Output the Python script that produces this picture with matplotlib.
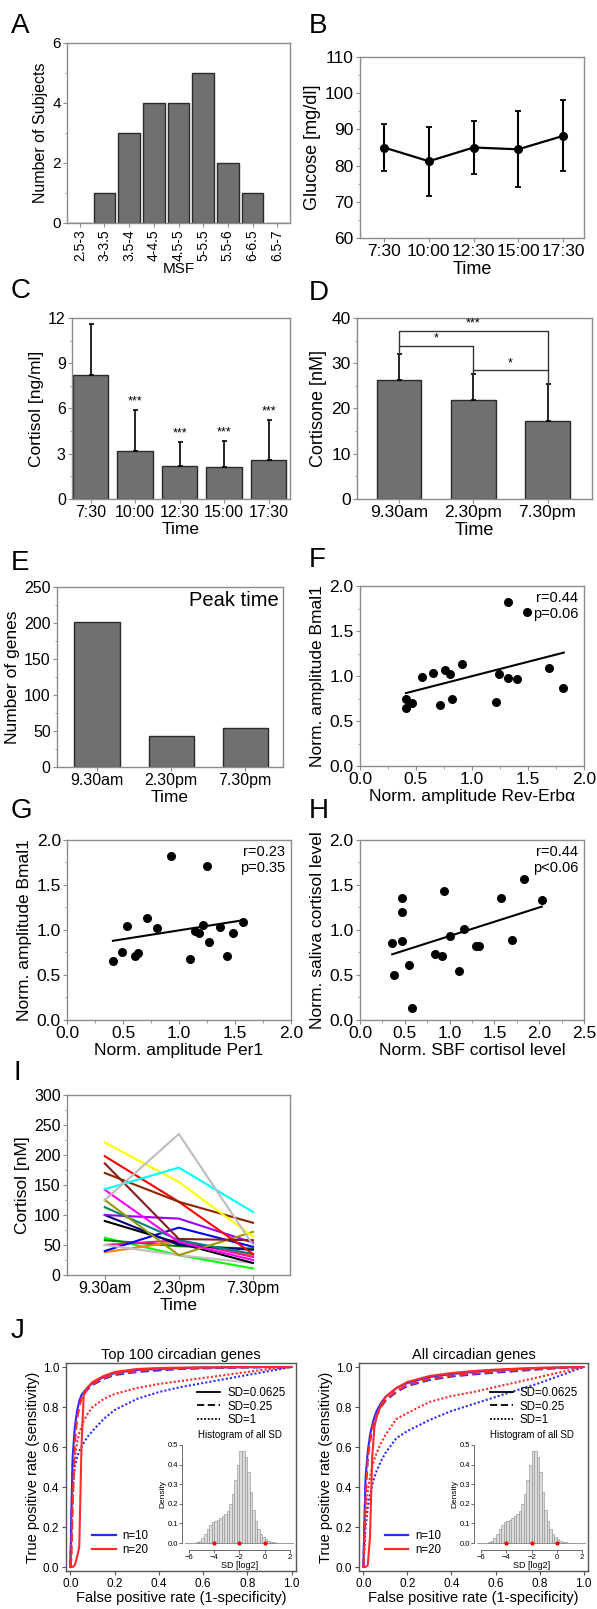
import numpy as np
import matplotlib
matplotlib.use('Agg')
import matplotlib.pyplot as plt
from matplotlib.ticker import MultipleLocator, FormatStrFormatter
from matplotlib.lines import Line2D

plt.rcParams['font.family'] = ['Liberation Sans', 'DejaVu Sans']

W, H = 597, 1609

# --------------------------- data ---------------------------
msf_bins = ['2.5-3', '3-3.5', '3.5-4', '4-4.5', '4.5-5', '5-5.5', '5.5-6', '6-6.5', '6.5-7']
msf_counts = [0, 1, 3, 4, 4, 5, 2, 1, 0]

clock_times = ['7:30', '10:00', '12:30', '15:00', '17:30']
glucose_mean = [85.0, 81.2, 85.0, 84.5, 88.2]
glucose_sd = [6.5, 9.5, 7.2, 10.5, 9.8]

cortisol_mean = [8.2, 3.2, 2.2, 2.1, 2.6]
cortisol_sd = [3.4, 2.7, 1.6, 1.75, 2.65]
cortisol_sig = ['', '***', '***', '***', '***']

day_times = ['9.30am', '2.30pm', '7.30pm']
cortisone_mean = [26.3, 21.9, 17.2]
cortisone_sd = [5.7, 5.8, 8.2]
# (bar i, bar j, bracket height, left end, right end, label)
cortisone_brackets = [(0, 1, 33.8, 32.0, 28.4, '*'),
                      (0, 2, 37.2, 33.8, 28.4, '***'),
                      (1, 2, 28.4, 27.7, 25.4, '*')]

peak_genes = [202, 43, 54]

rev_x = [0.41, 0.41, 0.46, 0.55, 0.65, 0.71, 0.76, 0.80, 0.82, 0.91, 1.21, 1.24, 1.32, 1.40, 1.69, 1.815, 1.32, 1.49]
rev_y = [0.75, 0.65, 0.705, 0.99, 1.035, 0.675, 1.07, 1.02, 0.74, 1.13, 0.71, 1.025, 0.975, 0.97, 1.09, 0.87, 1.825, 1.71]
rev_fit_x = [0.41, 1.82]
rev_fit_y = [0.81, 1.26]

per_x = [0.41, 0.49, 0.54, 0.61, 0.63, 0.71, 0.80, 0.93, 1.10, 1.14, 1.18, 1.21, 1.25, 1.27, 1.37, 1.43, 1.48, 1.57]
per_y = [0.655, 0.76, 1.04, 0.71, 0.74, 1.13, 1.02, 1.82, 0.675, 0.99, 0.97, 1.06, 1.71, 0.87, 1.03, 0.71, 0.97, 1.09]
per_fit_x = [0.41, 1.58]
per_fit_y = [0.88, 1.11]

sbf_x = [0.36, 0.385, 0.47, 0.47, 0.47, 0.55, 0.585, 0.84, 0.91, 0.94, 1.0, 1.11, 1.16, 1.30, 1.33, 1.57, 1.70, 1.83, 2.03]
sbf_y = [0.85, 0.50, 0.88, 1.20, 1.36, 0.61, 0.13, 0.73, 0.71, 1.43, 0.93, 0.54, 1.01, 0.82, 0.82, 1.36, 0.89, 1.57, 1.33]
sbf_fit_x = [0.36, 2.03]
sbf_fit_y = [0.73, 1.26]

subject_colors = ['#00ff00', '#008000', '#ff8000', '#ff1493', '#0000ff', '#c0c0c0',
                  '#000000', '#000080', '#9900ff', '#008080', '#999900', '#ff00ff',
                  '#ff0000', '#8b1a1a', '#8b2500', '#ffff00', '#00ffff', '#bdbdbd']
subject_cortisol = [[62, 33, 11], [58, 48, 44], [38, 56, 33], [50, 58, 30], [40, 79, 47],
                    [50, 33, 20], [90, 53, 20], [100, 50, 42], [100, 94, 54], [113, 58, 35],
                    [125, 33, 72], [142, 55, 25], [198, 122, 35], [186, 60, 58], [170, 122, 87],
                    [221, 155, 64], [143, 179, 105], [125, 235, 50]]

fpr = [0, 0.005, 0.01, 0.02, 0.03, 0.04, 0.05, 0.06, 0.08, 0.1, 0.15, 0.2, 0.3, 0.4, 0.5, 0.6, 0.7, 0.8, 0.9, 1.0]
top_n10_sd0625 = [0, 0.30, 0.55, 0.70, 0.78, 0.83, 0.86, 0.875, 0.90, 0.92, 0.95, 0.97, 0.985, 0.99, 0.995, 0.997, 0.998, 0.999, 1.0, 1.0]
top_n10_sd025 = [0, 0.25, 0.50, 0.66, 0.75, 0.81, 0.845, 0.865, 0.89, 0.91, 0.94, 0.96, 0.975, 0.983, 0.99, 0.993, 0.996, 0.998, 0.999, 1.0]
top_n10_sd1 = [0, 0.20, 0.40, 0.50, 0.55, 0.58, 0.60, 0.62, 0.655, 0.68, 0.74, 0.785, 0.84, 0.875, 0.90, 0.92, 0.94, 0.96, 0.98, 1.0]
top_n20_sd0625 = [0, 0, 0, 0.01, 0.05, 0.10, 0.60, 0.86, 0.90, 0.925, 0.955, 0.975, 0.99, 0.995, 0.997, 0.998, 0.999, 1.0, 1.0, 1.0]
top_n20_sd025 = [0, 0.05, 0.30, 0.62, 0.74, 0.80, 0.845, 0.87, 0.895, 0.915, 0.945, 0.965, 0.98, 0.99, 0.993, 0.996, 0.998, 0.999, 1.0, 1.0]
top_n20_sd1 = [0, 0.15, 0.35, 0.55, 0.62, 0.67, 0.70, 0.73, 0.77, 0.80, 0.84, 0.865, 0.895, 0.915, 0.93, 0.945, 0.96, 0.975, 0.99, 1.0]

all_n10_sd0625 = [0, 0.25, 0.45, 0.58, 0.66, 0.71, 0.75, 0.78, 0.82, 0.85, 0.895, 0.92, 0.95, 0.965, 0.975, 0.983, 0.99, 0.995, 0.998, 1.0]
all_n10_sd025 = [0, 0.20, 0.40, 0.55, 0.63, 0.69, 0.73, 0.76, 0.80, 0.83, 0.875, 0.905, 0.935, 0.952, 0.963, 0.972, 0.98, 0.988, 0.995, 1.0]
all_n10_sd1 = [0, 0.10, 0.20, 0.30, 0.36, 0.41, 0.45, 0.48, 0.53, 0.57, 0.645, 0.68, 0.735, 0.78, 0.815, 0.85, 0.885, 0.92, 0.96, 1.0]
all_n20_sd0625 = [0, 0, 0, 0.01, 0.15, 0.55, 0.70, 0.75, 0.81, 0.85, 0.895, 0.925, 0.955, 0.97, 0.98, 0.987, 0.992, 0.996, 0.998, 1.0]
all_n20_sd025 = [0, 0.15, 0.35, 0.55, 0.63, 0.69, 0.73, 0.76, 0.80, 0.835, 0.88, 0.91, 0.94, 0.957, 0.968, 0.977, 0.985, 0.991, 0.996, 1.0]
all_n20_sd1 = [0, 0.12, 0.25, 0.38, 0.45, 0.50, 0.54, 0.57, 0.62, 0.66, 0.74, 0.77, 0.825, 0.855, 0.875, 0.90, 0.925, 0.95, 0.975, 1.0]

sd_bin_left = [-5.4, -5.2, -5.0, -4.8, -4.6, -4.4, -4.2, -4.0, -3.8, -3.6, -3.4, -3.2, -3.0, -2.8, -2.6, -2.4,
               -2.2, -2.0, -1.8, -1.6, -1.4, -1.2, -1.0, -0.8, -0.6, -0.4, -0.2, 0.0, 0.2, 0.4, 0.6, 0.8]
sd_density = [0.005, 0.012, 0.025, 0.045, 0.07, 0.09, 0.105, 0.115, 0.12, 0.13, 0.14, 0.15, 0.165, 0.20, 0.25, 0.32,
              0.40, 0.47, 0.47, 0.44, 0.36, 0.26, 0.17, 0.11, 0.07, 0.045, 0.03, 0.02, 0.012, 0.007, 0.004, 0.002]
sd_marks = [-4, -2, 0]

# --------------------------- helpers ---------------------------
fig = plt.figure(figsize=(W / 100, H / 100), dpi=100)


def px_axes(l, t, r, b):
    return fig.add_axes([l / W, 1 - b / H, (r - l) / W, (b - t) / H])


def style_box(ax, size=11.5):
    for s in ax.spines.values():
        s.set_color('#8c8c8c')
        s.set_linewidth(1.0)
    ax.tick_params(which='both', direction='out', color='#8c8c8c', labelsize=size, pad=1.5)
    ax.tick_params(which='major', length=3)
    ax.tick_params(which='minor', length=1.8)


def letter(x, y, s):
    fig.text(x / W, 1 - y / H, s, fontsize=20, ha='left', va='baseline')


BAR = '#707070'
EDGE = '#2a2a2a'

# --------------------------- A ---------------------------
ax = px_axes(67, 43, 290, 223)
xa = np.arange(len(msf_bins))
ax.bar(xa, msf_counts, width=0.87, color=BAR, edgecolor=EDGE, linewidth=1.0)
ax.set_xlim(-0.52, 8.52)
ax.set_ylim(0, 6)
ax.set_yticks([0, 2, 4, 6])
ax.yaxis.set_minor_locator(MultipleLocator(1))
ax.set_xticks(xa)
ax.set_xticklabels(msf_bins, rotation=90, fontsize=10)
style_box(ax, 11)
ax.tick_params(axis='x', labelsize=10)
ax.set_xlabel('MSF', fontsize=11, labelpad=1)
ax.set_ylabel('Number of Subjects', fontsize=11.5, labelpad=3)
letter(11, 33, 'A')

# --------------------------- B ---------------------------
ax = px_axes(360, 57, 584, 238)
xb = np.arange(len(clock_times))
ax.errorbar(xb, glucose_mean, yerr=glucose_sd, color='black', marker='o', markersize=5.5,
            linewidth=1.6, elinewidth=1.5, capsize=2.5, capthick=1.3)
ax.set_xlim(-0.54, 4.47)
ax.set_ylim(60, 110)
ax.yaxis.set_major_locator(MultipleLocator(10))
ax.yaxis.set_minor_locator(MultipleLocator(5))
ax.set_xticks(xb)
ax.set_xticklabels(clock_times)
style_box(ax, 12.5)
ax.set_xlabel('Time', fontsize=13, labelpad=1.5)
ax.set_ylabel('Glucose [mg/dl]', fontsize=13, labelpad=3)
letter(309, 33, 'B')

# --------------------------- C ---------------------------
ax = px_axes(72, 318, 290, 499)
xc = np.arange(len(clock_times))
ax.bar(xc, cortisol_mean, width=0.8, color=BAR, edgecolor=EDGE, linewidth=1.0)
ax.errorbar(xc, cortisol_mean, yerr=[[0] * len(xc), cortisol_sd], fmt='none', ecolor='black',
            elinewidth=1.2, capsize=1.8, capthick=1.2)
for i, s in enumerate(cortisol_sig):
    if s:
        ax.text(xc[i], cortisol_mean[i] + cortisol_sd[i] + 0.15, s, ha='center', va='bottom', fontsize=9)
ax.set_xlim(-0.42, 4.48)
ax.set_ylim(0, 12)
ax.set_yticks([0, 3, 6, 9, 12])
ax.yaxis.set_minor_locator(MultipleLocator(1.5))
ax.set_xticks(xc)
ax.set_xticklabels(clock_times)
style_box(ax, 11.5)
ax.set_xlabel('Time', fontsize=12.5, labelpad=1.5)
ax.set_ylabel('Cortisol [ng/ml]', fontsize=12.5, labelpad=3)
letter(11, 298, 'C')

# --------------------------- D ---------------------------
ax = px_axes(357, 318, 592, 499)
xd = np.arange(len(day_times))
ax.bar(xd, cortisone_mean, width=0.6, color=BAR, edgecolor=EDGE, linewidth=1.0)
ax.errorbar(xd, cortisone_mean, yerr=[[0] * len(xd), cortisone_sd], fmt='none', ecolor='black',
            elinewidth=1.2, capsize=1.8, capthick=1.2)
for i, j, h, lo_i, lo_j, s in cortisone_brackets:
    ax.plot([xd[i], xd[i], xd[j], xd[j]], [lo_i, h, h, lo_j], color='#333333', linewidth=1.0)
    ax.text((xd[i] + xd[j]) / 2, h + 0.3, s, ha='center', va='bottom', fontsize=9)
ax.set_xlim(-0.57, 2.6)
ax.set_ylim(0, 40)
ax.yaxis.set_major_locator(MultipleLocator(10))
ax.yaxis.set_minor_locator(MultipleLocator(5))
ax.set_xticks(xd)
ax.set_xticklabels(day_times)
style_box(ax, 12.5)
ax.set_xlabel('Time', fontsize=13, labelpad=1.5)
ax.set_ylabel('Cortisone [nM]', fontsize=13, labelpad=3)
letter(309, 300, 'D')

# --------------------------- E ---------------------------
ax = px_axes(57, 587, 283, 767)
ax.bar(xd, peak_genes, width=0.61, color=BAR, edgecolor=EDGE, linewidth=1.0)
ax.set_xlim(-0.54, 2.51)
ax.set_ylim(0, 250)
ax.yaxis.set_major_locator(MultipleLocator(50))
ax.yaxis.set_minor_locator(MultipleLocator(25))
ax.set_xticks(xd)
ax.set_xticklabels(day_times)
style_box(ax, 11.5)
ax.text(0.98, 0.975, 'Peak time', transform=ax.transAxes, ha='right', va='top', fontsize=14.5)
ax.set_xlabel('Time', fontsize=12.5, labelpad=1.5)
ax.set_ylabel('Number of genes', fontsize=12.5, labelpad=3)
letter(11, 570, 'E')


# --------------------------- F, G, H ---------------------------
def scatter_panel(box, xs, ys, fx, fy, xmax, xlabel, ylabel, stats):
    ax = px_axes(*box)
    ax.scatter(xs, ys, s=30, color='black', zorder=3)
    ax.plot(fx, fy, color='black', linewidth=1.5)
    ax.set_xlim(0, xmax)
    ax.set_ylim(0, 2)
    ax.xaxis.set_major_locator(MultipleLocator(0.5))
    ax.xaxis.set_minor_locator(MultipleLocator(0.25))
    ax.yaxis.set_major_locator(MultipleLocator(0.5))
    ax.yaxis.set_minor_locator(MultipleLocator(0.25))
    ax.xaxis.set_major_formatter(FormatStrFormatter('%.1f'))
    ax.yaxis.set_major_formatter(FormatStrFormatter('%.1f'))
    style_box(ax, 12.5)
    ax.text(0.975, 0.97, stats, transform=ax.transAxes, ha='right', va='top', fontsize=10.5, linespacing=1.15)
    ax.set_xlabel(xlabel, fontsize=12.5, labelpad=1.5)
    ax.set_ylabel(ylabel, fontsize=12.5, labelpad=3)
    return ax


scatter_panel((360, 586, 584, 766), rev_x, rev_y, rev_fit_x, rev_fit_y, 2.0,
              'Norm. amplitude Rev-Erb\u03b1', 'Norm. amplitude Bmal1', 'r=0.44\np=0.06')
letter(309, 567, 'F')
scatter_panel((67, 840, 291, 1020), per_x, per_y, per_fit_x, per_fit_y, 2.0,
              'Norm. amplitude Per1', 'Norm. amplitude Bmal1', 'r=0.23\np=0.35')
letter(11, 818, 'G')
scatter_panel((360, 840, 584, 1020), sbf_x, sbf_y, sbf_fit_x, sbf_fit_y, 2.5,
              'Norm. SBF cortisol level', 'Norm. saliva cortisol level', 'r=0.44\np<0.06')
letter(309, 818, 'H')

# --------------------------- I ---------------------------
ax = px_axes(67, 1095, 290, 1275)
for col, vals in zip(subject_colors, subject_cortisol):
    ax.plot(xd, vals, color=col, linewidth=1.5)
ax.set_xlim(-0.51, 2.5)
ax.set_ylim(0, 300)
ax.yaxis.set_major_locator(MultipleLocator(50))
ax.yaxis.set_minor_locator(MultipleLocator(25))
ax.set_xticks(xd)
ax.set_xticklabels(day_times)
style_box(ax, 11.5)
ax.set_xlabel('Time', fontsize=12.5, labelpad=1.5)
ax.set_ylabel('Cortisol [nM]', fontsize=12.5, labelpad=3)
letter(13, 1080, 'I')

# --------------------------- J ---------------------------
roc_sets = {
    'Top 100 circadian genes': [(top_n10_sd0625, top_n10_sd025, top_n10_sd1),
                                (top_n20_sd0625, top_n20_sd025, top_n20_sd1)],
    'All circadian genes': [(all_n10_sd0625, all_n10_sd025, all_n10_sd1),
                            (all_n20_sd0625, all_n20_sd025, all_n20_sd1)],
}
n_colors = ['#2b2bff', '#ff2a2a']
n_labels = ['n=10', 'n=20']
sd_styles = ['-', (0, (4, 2)), (0, (1, 1))]
sd_labels = ['SD=0.0625', 'SD=0.25', 'SD=1']
roc_boxes = [(66, 1363, 296, 1571), (359, 1363, 588, 1571)]
inset_boxes = [(185, 1441, 294, 1547), (477, 1441, 586, 1547)]

for (title, groups), box, ibox in zip(roc_sets.items(), roc_boxes, inset_boxes):
    ax = px_axes(*box)
    for col, curves in zip(n_colors, groups):
        for ls, tpr in zip(sd_styles, curves):
            ax.plot(fpr, tpr, color=col, linestyle=ls, linewidth=1.5)
    ax.set_xlim(-0.02, 1.02)
    ax.set_ylim(-0.02, 1.02)
    ax.set_xticks([0, 0.2, 0.4, 0.6, 0.8, 1.0])
    ax.set_yticks([0, 0.2, 0.4, 0.6, 0.8, 1.0])
    ax.xaxis.set_major_formatter(FormatStrFormatter('%.1f'))
    ax.yaxis.set_major_formatter(FormatStrFormatter('%.1f'))
    for s in ax.spines.values():
        s.set_color('#555555')
        s.set_linewidth(1.0)
    ax.tick_params(direction='out', length=3, color='#555555', labelsize=8.5, pad=2)
    ax.set_title(title, fontsize=10.5, pad=3)
    ax.set_xlabel('False positive rate (1-specificity)', fontsize=10.5, labelpad=1)
    ax.set_ylabel('True positive rate (sensitivity)', fontsize=10.5, labelpad=2)
    h1 = [Line2D([], [], color=c, linewidth=1.6) for c in n_colors]
    leg1 = ax.legend(h1, n_labels, loc='lower left', bbox_to_anchor=(0.07, 0.02), frameon=False,
                     fontsize=8.3, handlelength=2.0, labelspacing=0.2, handletextpad=0.6)
    ax.add_artist(leg1)
    h2 = [Line2D([], [], color='black', linestyle=ls, linewidth=1.3) for ls in sd_styles]
    ax.legend(h2, sd_labels, loc='upper left', bbox_to_anchor=(0.55, 0.905), frameon=False,
              fontsize=8.3, handlelength=2.0, labelspacing=0.1, handletextpad=0.6, borderaxespad=0)

    ins = px_axes(*ibox)
    ins.bar(sd_bin_left, sd_density, width=0.2, align='edge', color='#dcdcdc', edgecolor='#8a8a8a', linewidth=0.4)
    ins.axhline(0, color='#8a8a8a', linewidth=0.6)
    ins.plot(sd_marks, [0] * len(sd_marks), 'o', color='red', markersize=2, clip_on=False)
    ins.set_xlim(-6.3, 2.3)
    ins.set_ylim(-0.02, 0.52)
    ins.set_xticks([-6, -4, -2, 0, 2])
    ins.set_yticks([0, 0.1, 0.2, 0.3, 0.4, 0.5])
    ins.yaxis.set_major_formatter(FormatStrFormatter('%.1f'))
    ins.spines['top'].set_visible(False)
    ins.spines['right'].set_visible(False)
    ins.spines['left'].set_bounds(0, 0.5)
    ins.spines['bottom'].set_bounds(-6, 2)
    ins.spines['left'].set_position(('outward', 2))
    ins.spines['bottom'].set_position(('outward', 2))
    for s in ('left', 'bottom'):
        ins.spines[s].set_color('#555555')
        ins.spines[s].set_linewidth(0.6)
    ins.patch.set_alpha(0)
    ins.tick_params(direction='out', length=2, width=0.6, color='#555555', labelsize=5.5, pad=1)
    ins.set_title('Histogram of all SD', fontsize=7, pad=2)
    ins.set_xlabel('SD [log2]', fontsize=6.5, labelpad=0)
    ins.set_ylabel('Density', fontsize=6, labelpad=1)

letter(11, 1338, 'J')

fig.savefig('out.png', dpi=100)
